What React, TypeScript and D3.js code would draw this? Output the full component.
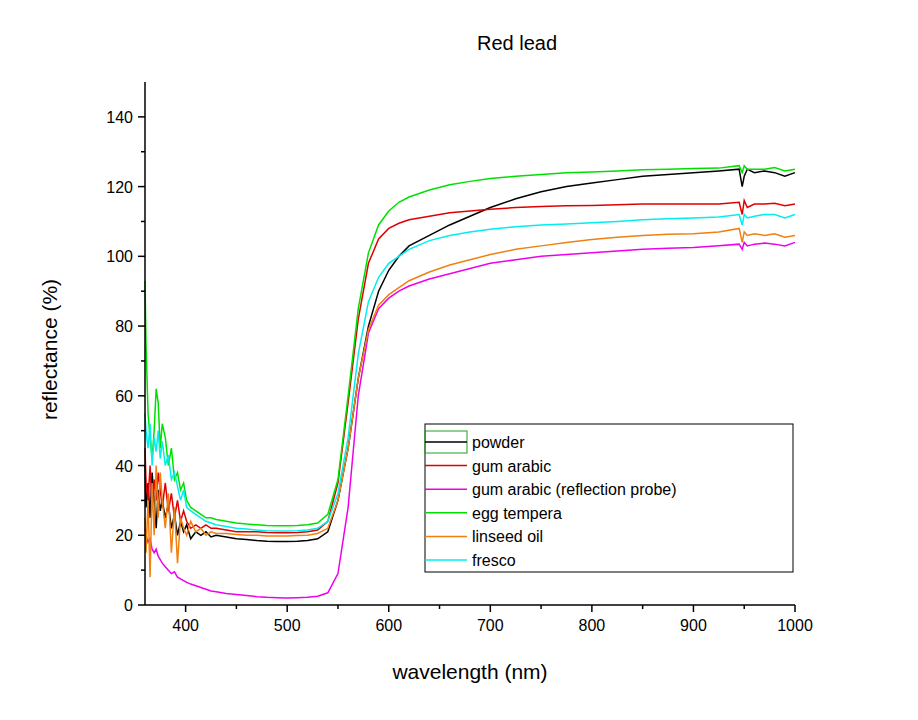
import React from 'react';
import * as d3 from 'd3';

const wavelengths = [360,361,363,365,367,369,371,373,375,377,380,383,386,389,392,395,398,401,405,410,415,420,425,430,440,450,460,470,480,490,500,510,520,530,540,550,560,570,580,590,600,610,620,640,660,680,700,725,750,775,800,825,850,875,900,925,945,948,950,953,960,970,980,990,1000];

const powder = [40,28,35,25,38,30,22,33,27,30, 25,29,22,26,20,24,21,23,19,21, 20,21,19.5,20,19.5,19,18.8,18.5,18.3,18.2, 18.2,18.3,18.5,19,21,30,45,65,80,90, 96,100,103,106,109,111.5,114,116.5,118.5,120, 121,122,123,123.5,124,124.5,125,120,123,125, 124,124.5,124,123,124];
const gumArabic = [45,35,30,40,28,36,30,38,33,28, 35,27,32,25,30,24,27,24,22,23, 22,23,22,22,21.5,21,21,21,20.8,20.7, 20.7,20.8,21,21.5,24,35,58,82,98,105, 108,109.5,110.5,111.5,112.5,113,113.5,114,114.3,114.5, 114.6,114.8,115,115,115,115,115.5,112,116,114, 115,115,115.2,114.5,115];
const gumProbe = [22,20,18,19,16,15,16,14,13,12, 11,10,9,9.5,8,7.5,7,6.5,6,5.5, 5,4.5,4,3.8,3.3,3,2.7,2.4,2.2,2.1, 2,2.1,2.2,2.5,3.5,9,28,60,78,85, 88,90,91.5,93.5,95,96.5,98,99,100,100.5, 101,101.5,102,102.3,102.5,103,103.5,102,104,103, 103.5,103.8,103.5,103,104];
const eggTempera = [93,75,55,48,42,50,62,58,45,52, 48,40,45,36,38,33,35,30,28,27, 26,25,25,24.5,24,23.5,23.2,23,22.8,22.7, 22.7,22.8,23,23.5,26,36,60,85,101,109, 113,115.5,117,119,120.5,121.5,122.3,123,123.5,124, 124.2,124.5,124.8,125,125.2,125.3,126,124,126,125, 125,125,125.5,124.5,125];
const linseed = [25,15,30,8,35,20,40,25,38,30, 22,32,15,28,12,25,22,20,24,21, 22,20,21,20.5,20.5,20.2,20,20,19.8,19.8, 19.8,19.9,20,20.5,22,30,45,65,79,86, 89,91,93,95.5,97.5,99,100.5,102,103,104, 104.8,105.5,106,106.3,106.5,107,108,104,107,106, 106.5,106,106.5,105.5,106];
const fresco = [55,50,45,52,40,48,44,50,42,47, 40,43,36,38,34,30,33,28,27,26, 25,24,23.5,23,22.5,22,21.8,21.5,21.3,21.2, 21.2,21.3,21.5,22,24,32,48,72,87,94, 98,100,102,104.5,106,107,107.8,108.5,109,109.3, 109.6,110,110.5,110.8,111,111.3,112,109,112,111, 111.5,112,112,111,112];

const series = [
  { name: 'powder', color: '#000000', values: powder },
  { name: 'gum arabic', color: '#e00000', values: gumArabic },
  { name: 'gum arabic (reflection probe)', color: '#ee00ee', values: gumProbe },
  { name: 'egg tempera', color: '#00e000', values: eggTempera },
  { name: 'linseed oil', color: '#f08010', values: linseed },
  { name: 'fresco', color: '#00eeee', values: fresco },
];

const xTicks = [400, 500, 600, 700, 800, 900, 1000];
const yTicks = [0, 20, 40, 60, 80, 100, 120, 140];

export default function App() {
  const left = 145, right = 795, top = 82, bottom = 605;
  const x = d3.scaleLinear().domain([360, 1000]).range([left, right]);
  const y = d3.scaleLinear().domain([0, 150]).range([bottom, top]);
  const font = 'Arial, "Liberation Sans", sans-serif';

  const line = (vals: number[]) =>
    d3.line<number>().x((_, i) => x(wavelengths[i])).y(d => y(d))(vals) || '';

  const xMinor = d3.range(400, 1001, 50);
  const yMinor = d3.range(10, 150, 20);

  return (
    <svg width={918} height={720} style={{ position: 'absolute', left: 0, top: 0 }} fontFamily={font}>
      <rect width={918} height={720} fill="#fff" />
      <text x={517} y={50} textAnchor="middle" fontSize={20}>Red lead</text>

      {series.map(s => (
        <path key={s.name} d={line(s.values)} fill="none" stroke={s.color} strokeWidth={1.5} />
      ))}

      {/* axes */}
      <line x1={left} y1={top} x2={left} y2={bottom} stroke="#000" strokeWidth={1.5} />
      <line x1={left} y1={bottom} x2={right} y2={bottom} stroke="#000" strokeWidth={1.5} />
      {yTicks.map(t => (
        <g key={t}>
          <line x1={left - 7} x2={left} y1={y(t)} y2={y(t)} stroke="#000" strokeWidth={1.5} />
          <text x={left - 12} y={y(t) + 6} textAnchor="end" fontSize={16}>{t}</text>
        </g>
      ))}
      {yMinor.map(t => (
        <line key={t} x1={left - 4} x2={left} y1={y(t)} y2={y(t)} stroke="#000" strokeWidth={1.5} />
      ))}
      {xMinor.map(t => (
        <line key={t} x1={x(t)} x2={x(t)} y1={bottom} y2={bottom + (t % 100 === 0 ? 7 : 4)} stroke="#000" strokeWidth={1.5} />
      ))}
      {xTicks.map(t => (
        <text key={t} x={x(t)} y={bottom + 26} textAnchor="middle" fontSize={16}>{t}</text>
      ))}
      <text x={470} y={679} textAnchor="middle" fontSize={21}>wavelength (nm)</text>
      <text transform={`translate(57,${(top + bottom) / 2 + 6}) rotate(-90)`} textAnchor="middle" fontSize={21}>reflectance (%)</text>

      {/* legend */}
      <rect x={425} y={424} width={368} height={148} fill="#fff" stroke="#000" strokeWidth={1} />
      <rect x={425} y={431} width={42} height={22} fill="none" stroke="#20a020" strokeWidth={1} />
      {series.map((s, i) => (
        <g key={s.name}>
          <line x1={425} x2={467} y1={442 + i * 23.6} y2={442 + i * 23.6} stroke={s.color} strokeWidth={1.5} />
          <text x={472} y={448 + i * 23.6} fontSize={16}>{s.name}</text>
        </g>
      ))}
    </svg>
  );
}
